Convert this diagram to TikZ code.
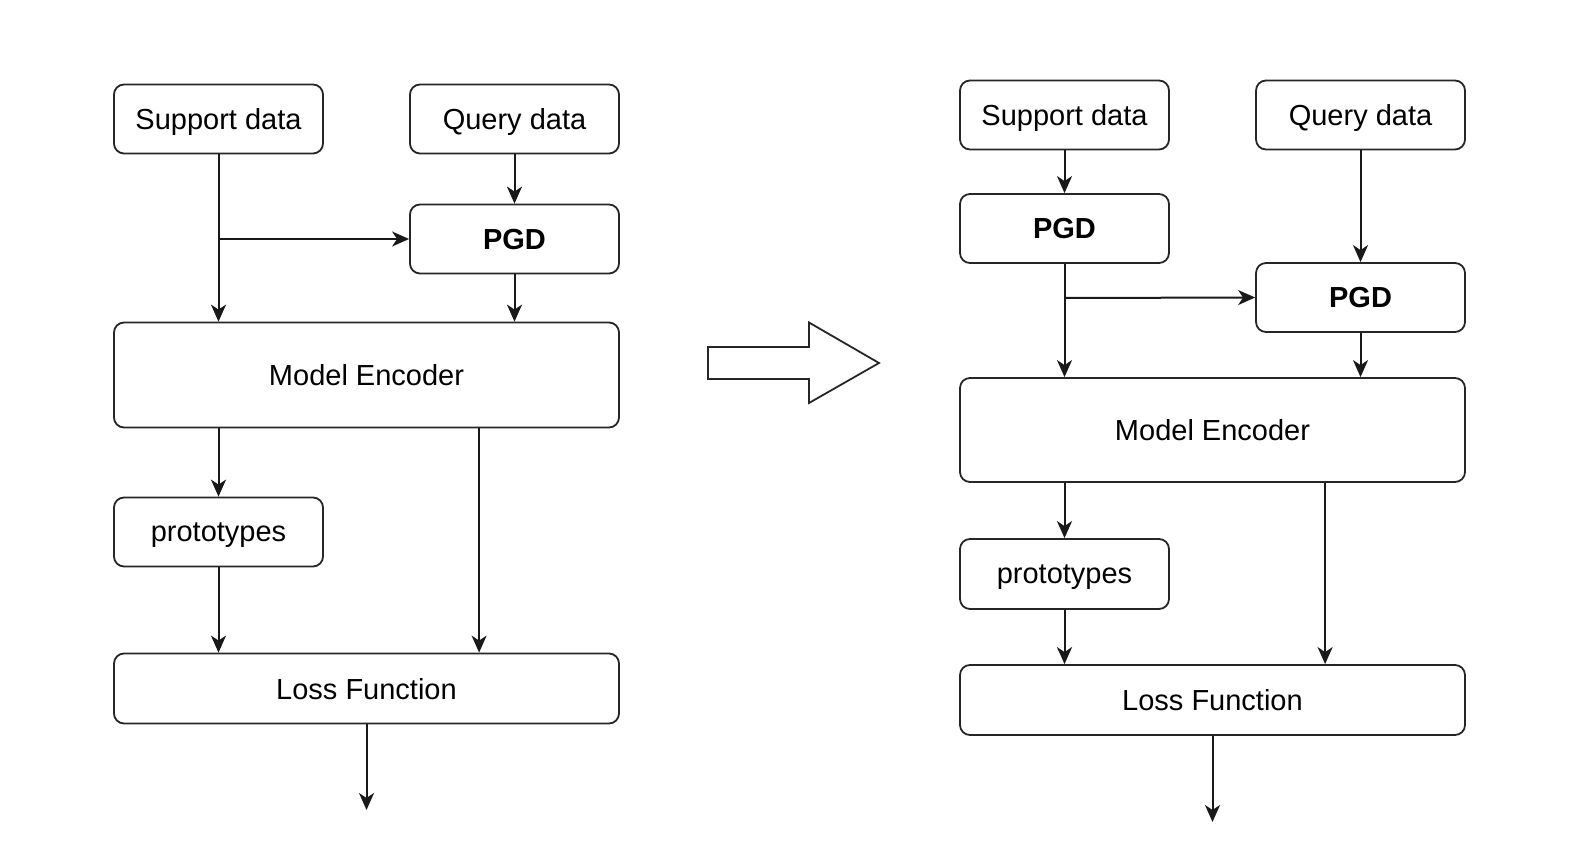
\documentclass[tikz,border=0pt]{standalone}
\usepackage{fontspec}
\setmainfont{Liberation Sans}
\usetikzlibrary{arrows.meta}
\tikzset{
  box/.style={draw=black!85, line width=1.8pt, rounded corners=10pt, fill=white, inner sep=0pt, text depth=0pt, font=\fontsize{29}{34}\selectfont},
  small/.style={box, minimum width=209pt, minimum height=69pt},
  wide/.style={box, minimum width=505pt},
  conn/.style={draw=black!90, line width=2pt, arrows={-Stealth[length=17pt,width=15pt,inset=5pt]}},
  bigarrow/.style={draw=black!85, line width=1.8pt, fill=white, line join=miter}
}
\begin{document}
\begin{tikzpicture}[x=1pt,y=-1pt]
\useasboundingbox (0,0) rectangle (1570,864);
% ---------- left diagram ----------
\node[small] (sdL) at (218.5,119) {Support data};
\node[small] (qdL) at (514.5,119) {Query data};
\node[small] (pgdL) at (514.5,239) {\bfseries PGD};
\node[wide, minimum height=105pt] (meL) at (366.5,375) {Model Encoder};
\node[small] (prL) at (218.5,532) {prototypes};
\node[wide, minimum height=70pt] (lfL) at (366.5,688.5) {Loss Function};
\coordinate (brL) at (218.5,239);
\coordinate (outL) at (366.5,810);
\draw[conn] (sdL.south) -- (sdL.south |- meL.north);
\draw[conn] (brL) -- (pgdL.west);
\draw[conn] (qdL.south) -- (pgdL.north);
\draw[conn] (pgdL.south) -- (pgdL.south |- meL.north);
\draw[conn] (meL.south -| prL.north) -- (prL.north);
\draw[conn] ([xshift=366pt]meL.south west) -- ([xshift=366pt]lfL.north west);
\draw[conn] (prL.south) -- (prL.south |- lfL.north);
\draw[conn] (lfL.south) -- (outL);
% ---------- block arrow ----------
\draw[bigarrow] (708,347) -- (809,347) -- (809,322.5) -- (879,363) -- (809,403) -- (809,379) -- (708,379) -- cycle;
% ---------- right diagram ----------
\node[small] (sdR) at (1064.5,115) {Support data};
\node[small] (qdR) at (1360.5,115) {Query data};
\node[small] (pgdR1) at (1064.5,228.5) {\bfseries PGD};
\node[small] (pgdR2) at (1360.5,297.5) {\bfseries PGD};
\node[wide, minimum height=104pt] (meR) at (1212.5,430) {Model Encoder};
\node[small, minimum height=70pt] (prR) at (1064.5,574) {prototypes};
\node[wide, minimum height=70pt] (lfR) at (1212.5,700) {Loss Function};
\coordinate (brR) at (1064.5,298);
\coordinate (outR) at (1212.5,822);
\draw[conn] (sdR.south) -- (pgdR1.north);
\draw[conn] (qdR.south) -- (pgdR2.north);
\draw[conn] (pgdR1.south) -- (pgdR1.south |- meR.north);
\draw[conn] (brR) -- (pgdR2.west);
\draw[conn] (pgdR2.south) -- (pgdR2.south |- meR.north);
\draw[conn] (meR.south -| prR.north) -- (prR.north);
\draw[conn] ([xshift=366pt]meR.south west) -- ([xshift=366pt]lfR.north west);
\draw[conn] (prR.south) -- (prR.south |- lfR.north);
\draw[conn] (lfR.south) -- (outR);
\end{tikzpicture}
\end{document}
